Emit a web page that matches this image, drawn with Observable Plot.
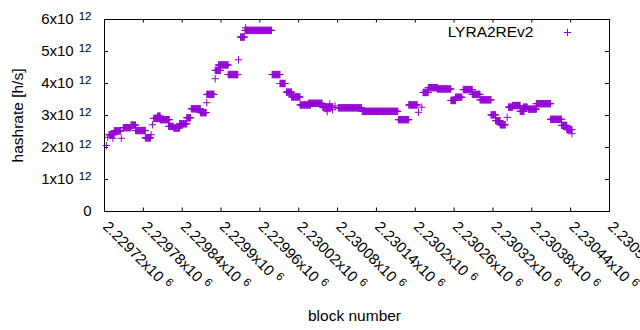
<!DOCTYPE html>
<html><head><meta charset="utf-8">
<script src="https://cdn.jsdelivr.net/npm/d3@7"></script>
<script src="https://cdn.jsdelivr.net/npm/@observablehq/plot@0.6"></script>
<style>body{margin:0;background:#fff}</style>
</head><body><div id="chart"></div>
<script>
const seriesName = "LYRA2REv2";
const xTitle = "block number";
const yTitle = "hashrate [h/s]";

// runs of blocks sharing one hashrate reading (value in units of 1e12 h/s)
const runStart = [2229723,2229725,2229727,2229733,2229735,2229746,2229749,2229761,2229768,2229783,2229792,2229794,2229796,2229802,2229806,2229819,2229827,2229836,2229847,2229854,2229868,2229878,2229878,2229891,2229891,2229896,2229911,2229927,2229930,2229937,2229938,2229979,2229991,2230001,2230009,2230022,2230035,2230057,2230064,2230068,2230072,2230076,2230081,2230118,2230174,2230190,2230205,2230210,2230212,2230220,2230234,2230255,2230262,2230274,2230288,2230300,2230317,2230324,2230331,2230342,2230344,2230350,2230362,2230367,2230375,2230387,2230409,2230426,2230434,2230442];
const runEnd   = [2229723,2229725,2229735,2229733,2229745,2229746,2229761,2229768,2229783,2229791,2229792,2229794,2229805,2229806,2229820,2229826,2229836,2229847,2229853,2229868,2229877,2229878,2229889,2229891,2229899,2229911,2229926,2229927,2229936,2229978,2229938,2229991,2229999,2230009,2230022,2230038,2230056,2230072,2230064,2230068,2230072,2230076,2230117,2230173,2230190,2230203,2230205,2230210,2230220,2230234,2230255,2230262,2230272,2230288,2230300,2230317,2230324,2230331,2230339,2230342,2230350,2230362,2230368,2230373,2230387,2230409,2230426,2230434,2230442,2230442];
const runValue = [2.06,2.32,2.40,2.29,2.52,2.29,2.62,2.70,2.53,2.30,2.40,2.71,2.91,2.98,2.87,2.66,2.61,2.74,2.93,3.21,3.09,3.40,3.66,4.15,4.41,4.58,4.28,4.74,5.45,5.66,5.74,4.28,4.00,3.73,3.58,3.33,3.38,3.26,3.12,3.36,3.18,3.30,3.24,3.13,2.87,3.33,3.10,3.26,3.72,3.87,3.83,3.47,3.57,3.81,3.66,3.49,3.02,2.84,2.71,2.94,3.26,3.31,3.13,3.26,3.20,3.37,2.88,2.69,2.56,2.43];

const xTickValues = [2229720,2229780,2229840,2229900,2229960,2230020,2230080,2230140,2230200,2230260,2230320,2230380,2230440,2230500];
const xTickMain = ["2.22972x10","2.22978x10","2.22984x10","2.2299x10","2.22996x10","2.23002x10","2.23008x10","2.23014x10","2.2302x10","2.23026x10","2.23032x10","2.23038x10","2.23044x10","2.2305x10"];
const xTickExp = ["6","6","6","6","6","6","6","6","6","6","6","6","6","6"];
const yTickValues = [0,1e12,2e12,3e12,4e12,5e12,6e12];
const yTickMain = ["0","1x10","2x10","3x10","4x10","5x10","6x10"];
const yTickExp = ["","12","12","12","12","12","12"];

const points = [];
runStart.forEach((s, i) => {
  for (let b = s; b <= runEnd[i]; b++) points.push({block: b, hashrate: runValue[i] * 1e12});
});

const W = 640, H = 330, mL = 104, mR = 31, mT = 19, mB = 119;
const xDomain = [2229720, 2230500], yDomain = [0, 6e12];
const perPxY = (yDomain[1] - yDomain[0]) / (H - mT - mB);
const perPxX = (xDomain[1] - xDomain[0]) / (W - mL - mR);
const tickX = 3.5 * perPxY, tickY = 4 * perPxX;
const purple = "#9400d3";
const font = "'Liberation Sans', Arial, Helvetica, sans-serif";

const svg = Plot.plot({
  width: W, height: H,
  marginLeft: mL, marginRight: mR, marginTop: mT, marginBottom: mB,
  x: {domain: xDomain, axis: null},
  y: {domain: yDomain, axis: null},
  style: {fontFamily: font, fontSize: "15px", background: "white", color: "black"},
  marks: [
    Plot.ruleX(xTickValues, {x: d => d, y1: yDomain[0], y2: yDomain[0] + tickX, stroke: "black"}),
    Plot.ruleX(xTickValues, {x: d => d, y1: yDomain[1], y2: yDomain[1] - tickX, stroke: "black"}),
    Plot.ruleY(yTickValues, {y: d => d, x1: xDomain[0], x2: xDomain[0] + tickY, stroke: "black"}),
    Plot.ruleY(yTickValues, {y: d => d, x1: xDomain[1], x2: xDomain[1] - tickY, stroke: "black"}),
    Plot.dot(points, {x: "block", y: "hashrate", symbol: "plus", r: 2.5, stroke: purple, strokeWidth: 1}),
    Plot.frame({stroke: "black", strokeWidth: 1}),
    Plot.text(yTickValues, {y: d => d, frameAnchor: "left", text: (d, i) => yTickMain[i], textAnchor: "end", lineAnchor: "middle", dx: -13, fontSize: 15}),
    Plot.text(xTickValues, {x: d => d, frameAnchor: "bottom", text: (d, i) => xTickMain[i], textAnchor: "start", lineAnchor: "middle", rotate: 45, dx: 1, dy: 12.5, fontSize: 15}),
    Plot.text([yTitle], {frameAnchor: "left", text: d => d, rotate: -90, textAnchor: "middle", lineAnchor: "middle", dx: 18 - mL, fontSize: 15.5}),
    Plot.text([xTitle], {frameAnchor: "bottom", text: d => d, textAnchor: "middle", lineAnchor: "middle", dx: -2.5, dy: 104.5, fontSize: 15.5}),
    Plot.text([seriesName], {frameAnchor: "top-right", text: d => d, textAnchor: "end", lineAnchor: "middle", dx: -76, dy: 13, fontSize: 15.5}),
    Plot.dot([seriesName], {x: () => xDomain[1], y: () => yDomain[1], symbol: "plus", r: 2.5, stroke: purple, strokeWidth: 1, dx: -42, dy: 13})
  ]
});

const ns = "http://www.w3.org/2000/svg";
const supMap = new Map();
yTickMain.forEach((m, i) => { if (yTickExp[i]) supMap.set(m, {e: yTickExp[i], dx: 5, dy: -4}); });
xTickMain.forEach((m, i) => { if (xTickExp[i]) supMap.set(m, {e: xTickExp[i], dx: 5, dy: -5}); });
svg.querySelectorAll("text").forEach(t => {
  const s = supMap.get(t.textContent.trim());
  if (!s) return;
  const ts = document.createElementNS(ns, "tspan");
  ts.setAttribute("dx", s.dx);
  ts.setAttribute("dy", s.dy);
  ts.setAttribute("font-size", "11.5");
  ts.textContent = s.e;
  t.appendChild(ts);
});

document.getElementById("chart").appendChild(svg);
</script>
</body></html>
